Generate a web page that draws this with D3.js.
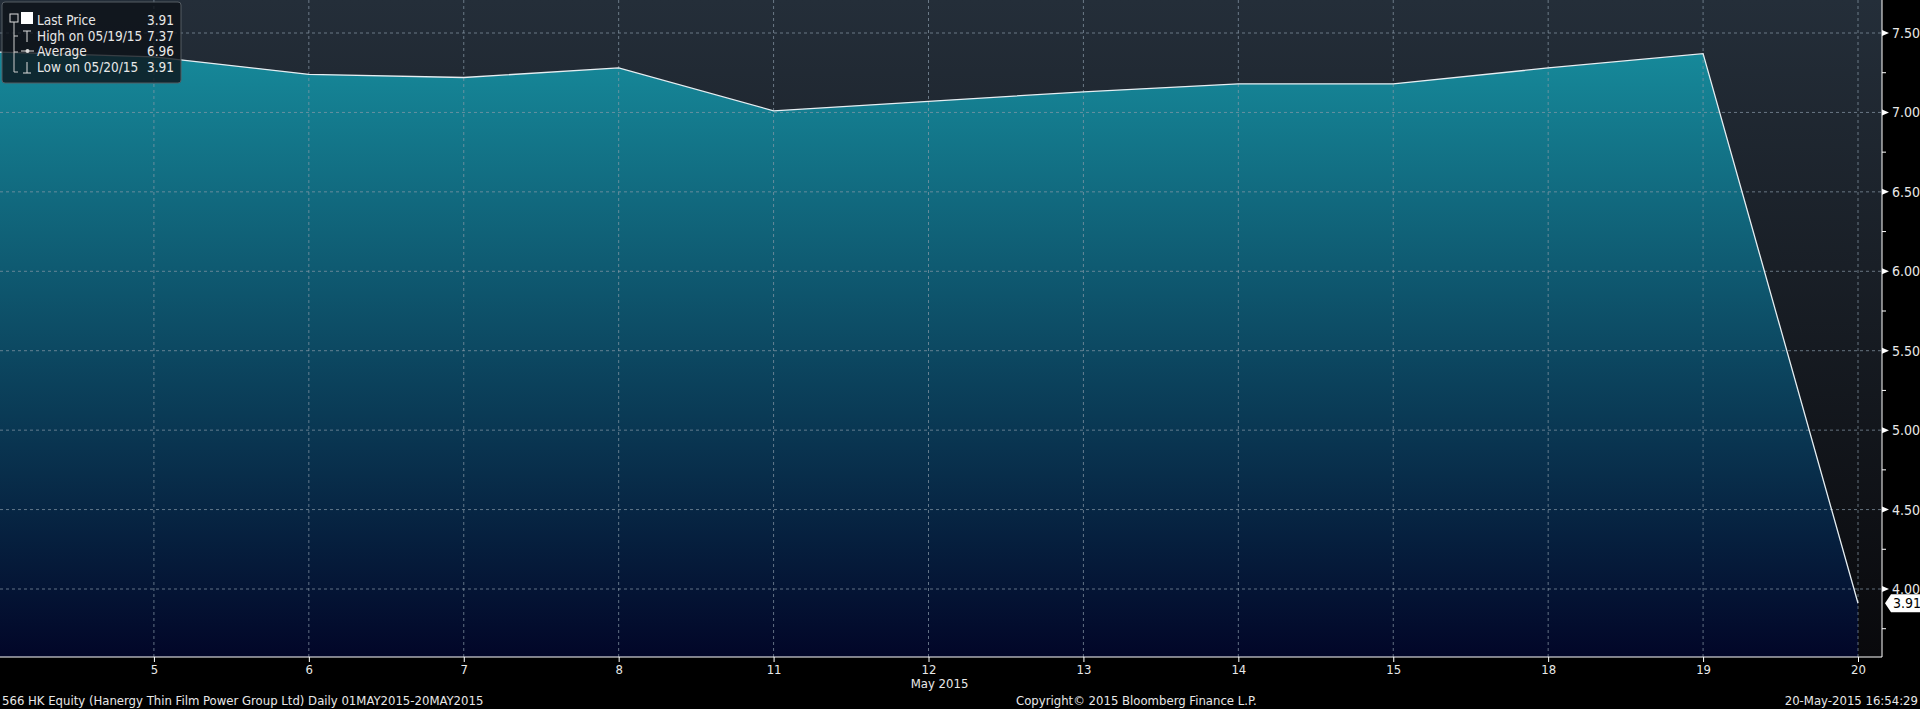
<!DOCTYPE html>
<html><head><meta charset="utf-8">
<script src="https://cdn.jsdelivr.net/npm/d3@7"></script>
<style>
body{margin:0;background:#000;overflow:hidden}
text{font-family:"DejaVu Sans Condensed","DejaVu Sans",sans-serif;fill:#e8e8e8}
</style></head><body>
<div id="chart"></div>
<script>
// data
var days = ["4","5","6","7","8","11","12","13","14","15","18","19","20"];
var prices = [7.38, 7.35, 7.24, 7.22, 7.28, 7.01, 7.07, 7.13, 7.18, 7.18, 7.28, 7.37, 3.91];
var yTicks = [4.00, 4.50, 5.00, 5.50, 6.00, 6.50, 7.00, 7.50];
var legendRows = [["Last Price","3.91"],["High on 05/19/15","7.37"],["Average","6.96"],["Low on 05/20/15","3.91"]];

var W = 1920, H = 709;
var plotR = 1882, plotB = 657;

var svg = d3.select("#chart").append("svg").attr("width", W).attr("height", H);
var defs = svg.append("defs");

var bg = defs.append("linearGradient").attr("id","bg").attr("x1",0).attr("y1",0).attr("x2",0).attr("y2",1);
bg.append("stop").attr("offset","0%").attr("stop-color","#242e39");
bg.append("stop").attr("offset","100%").attr("stop-color","#09090c");
var ar = defs.append("linearGradient").attr("id","ar").attr("x1",0).attr("y1",0).attr("x2",0).attr("y2",1);
ar.append("stop").attr("offset","0%").attr("stop-color","#16899a");
ar.append("stop").attr("offset","100%").attr("stop-color","#020628");

var x = d3.scalePoint().domain(days).range([-1, 1858]);
var y = d3.scaleLinear().domain([4.0, 7.5]).range([589, 33]);

svg.append("rect").attr("width", plotR).attr("height", plotB).attr("fill","url(#bg)");

var area = d3.area().x(function(d,i){ return x(days[i]); }).y0(plotB).y1(function(d){ return y(d); });
svg.append("path").attr("d", area(prices)).attr("fill","url(#ar)");

// grid
svg.selectAll(".hg").data(yTicks).enter().append("line")
  .attr("x1",0).attr("x2",plotR).attr("y1",d=>y(d)).attr("y2",d=>y(d))
  .attr("stroke","#8a9aa8").attr("stroke-opacity",0.7).attr("stroke-dasharray","3,3");
svg.selectAll(".vg").data(days.slice(1)).enter().append("line")
  .attr("y1",0).attr("y2",plotB).attr("x1",d=>x(d)).attr("x2",d=>x(d))
  .attr("stroke","#8a9aa8").attr("stroke-opacity",0.7).attr("stroke-dasharray","3,3");

var line = d3.line().x(function(d,i){ return x(days[i]); }).y(d=>y(d));
svg.append("path").attr("d", line(prices)).attr("fill","none").attr("stroke","#e6eef2").attr("stroke-width",1.3);

// axes
var xAxis = d3.axisBottom(x).tickValues(days.slice(1)).tickSize(5).tickPadding(3);
var gx = svg.append("g").attr("transform","translate(0,"+plotB+")").call(xAxis);
gx.select(".domain").attr("d","M0,0H"+plotR).attr("stroke","#fff");
gx.selectAll(".tick line").attr("stroke","#fff");
gx.selectAll("text").attr("font-size",13).attr("fill","#e8e8e8");

var gy = svg.append("g").attr("transform","translate("+plotR+",0)");
gy.append("line").attr("y1",0).attr("y2",plotB).attr("stroke","#fff");
var minor = d3.range(3.75, 7.76, 0.25);
gy.selectAll(".mt").data(minor).enter().append("line")
  .attr("x1",0).attr("x2",4).attr("y1",d=>y(d)).attr("y2",d=>y(d)).attr("stroke","#fff");
gy.selectAll(".ar").data(yTicks).enter().append("path")
  .attr("d",d=>"M0,"+(y(d)-3)+"L7,"+y(d)+"L0,"+(y(d)+3)+"Z").attr("fill","#fff");
gy.selectAll(".yl").data(yTicks).enter().append("text")
  .attr("x",10).attr("y",d=>y(d)+5).attr("font-size",14).text(d=>d.toFixed(2));

// last price label
var last = prices[prices.length-1];
gy.append("path").attr("d","M3,"+y(last)+"L9,"+(y(last)-9)+"H38V"+(y(last)+9)+"H9Z").attr("fill","#fff");
gy.append("text").attr("x",11).attr("y",y(last)+5).attr("font-size",14).style("fill","#000").text(last.toFixed(2));

// bottom text
svg.append("text").attr("x",x("12")+11).attr("y",688).attr("text-anchor","middle").attr("font-size",13).text("May 2015");
svg.append("text").attr("x",2).attr("y",705).attr("font-size",13).text("566 HK Equity (Hanergy Thin Film Power Group Ltd)  Daily 01MAY2015-20MAY2015");
svg.append("text").attr("x",1016).attr("y",705).attr("font-size",13).text("Copyright\u00a9 2015 Bloomberg Finance L.P.");
svg.append("text").attr("x",1918).attr("y",705).attr("text-anchor","end").attr("font-size",13).text("20-May-2015 16:54:29");

// legend
var lg = svg.append("g");
lg.append("rect").attr("x",2).attr("y",2).attr("width",179).attr("height",81).attr("rx",3)
  .attr("fill","#0d1218").attr("fill-opacity",0.8).attr("stroke","#555c63");
lg.append("rect").attr("x",10).attr("y",14).attr("width",8).attr("height",8).attr("fill","none").attr("stroke","#ddd");
lg.append("path").attr("d","M14,22V72H18M14,36H18M14,52H18").attr("stroke","#ccc").attr("fill","none");
lg.append("rect").attr("x",21).attr("y",12).attr("width",12).attr("height",12).attr("fill","#fff");
lg.append("path").attr("d","M23,31H31M27,31V42").attr("stroke","#ddd");
lg.append("path").attr("d","M21,51H34").attr("stroke","#ddd");
lg.append("circle").attr("cx",27.5).attr("cy",51).attr("r",2).attr("fill","#ddd");
lg.append("path").attr("d","M23,73H31M27,62V73").attr("stroke","#ddd");
lg.selectAll(".ln").data(legendRows).enter().append("text")
  .attr("x",37).attr("y",(d,i)=>25+i*15.5).attr("font-size",13.5).text(d=>d[0]);
lg.selectAll(".lv").data(legendRows).enter().append("text")
  .attr("x",174).attr("y",(d,i)=>25+i*15.5).attr("text-anchor","end").attr("font-size",13.5).text(d=>d[1]);
</script>
</body></html>
